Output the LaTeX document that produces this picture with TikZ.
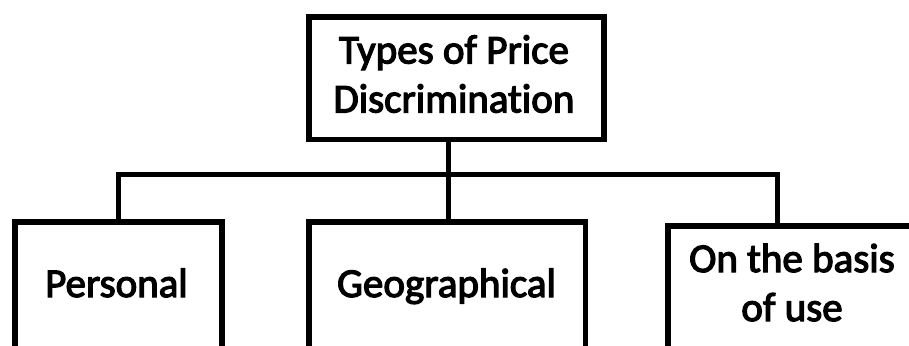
\documentclass[tikz,border=0pt]{standalone}
\usepackage{fontspec}
\setmainfont{Carlito}[Ligatures=NoCommon]
\newfontfamily\lblfont{Carlito}[Ligatures=NoCommon, FakeBold=3]
\begin{document}
\begin{tikzpicture}[x=1pt,y=-1pt,
  box/.style={draw, line width=5.5pt, rectangle, inner sep=0pt},
  conn/.style={line width=5pt},
  lbl/.style={font=\fontsize{41}{49}\lblfont, align=center, inner sep=0pt}]
\useasboundingbox (0,0) rectangle (909,345);
\clip (0,0) rectangle (909,345);

% boxes
\node[box, minimum width=295pt, minimum height=122.5pt] (top) at (456.5,78.25) {};
\node[box, minimum width=207pt, minimum height=130pt] (personal) at (118.5,287) {};
\node[box, minimum width=276.5pt, minimum height=130pt] (geo) at (447.25,287) {};
\node[box, minimum width=244pt, minimum height=130pt] (basis) at (790,291) {};

% labels
\node[lbl] (toplbl) at (454,74) {Types of Price\\Discrimination};
\node[lbl, anchor=base] (personallbl) at (116.5,297) {Personal};
\node[lbl, anchor=base] (geolbl) at (446.5,297) {Geographical};
\node[lbl] (basislbl) at (792,282.5) {On the basis\\of use};

% connectors
\coordinate (hub) at (448,174.5);
\coordinate (rdrop) at (777,174.5);
\draw[conn] (top.south -| hub) -- (hub) -- (hub |- geo.north);
\draw[conn] (personal.north) |- (rdrop) -- (rdrop |- basis.north);
\end{tikzpicture}
\end{document}
